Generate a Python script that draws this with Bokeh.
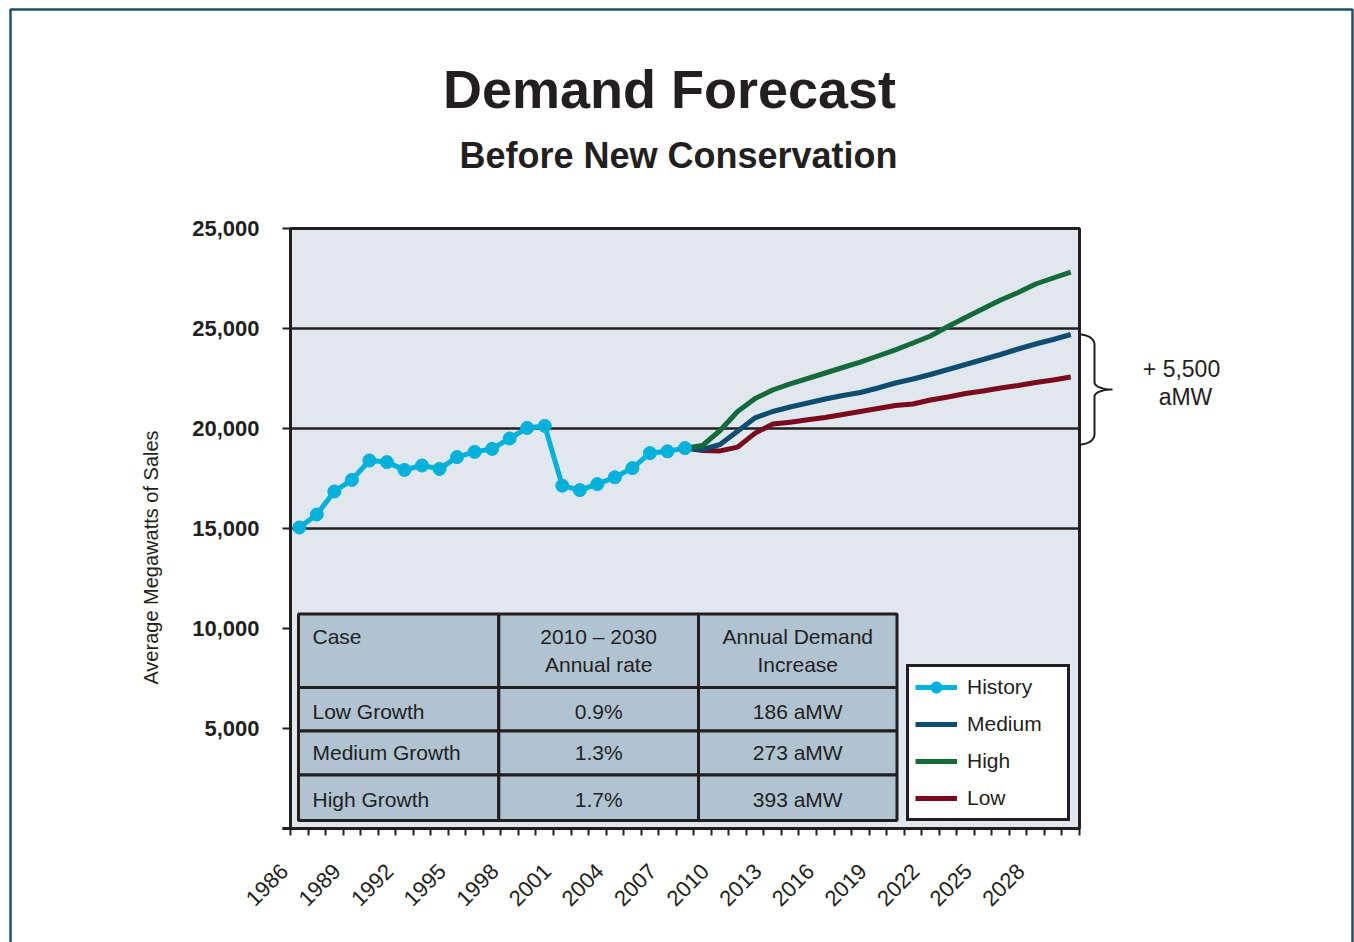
import numpy as np
from math import pi
from bokeh.plotting import figure
from bokeh.models import (FixedTicker, Range1d, Label, PolyAnnotation, Legend, LegendItem,
                          LinearAxis)
from bokeh.core.properties import value
from bokeh.embed import file_html
from bokeh.resources import INLINE

# ---------------- data ----------------
hist_years = list(range(1986, 2009))
hist_values = [15050, 15700, 16850, 17430, 18400, 18320, 17930, 18150, 17980, 18570,
               18830, 18980, 19500, 20030, 20130, 17140, 16920, 17220, 17560, 18020,
               18770, 18860, 19020]

fc_years = list(range(2008, 2031))
medium = [19020, 18950, 19200, 19865, 20533, 20850, 21075, 21275, 21475, 21650, 21800,
          22025, 22275, 22475, 22700, 22950, 23200, 23450, 23700, 23975, 24225, 24450, 24700]
high = [19020, 19150, 19900, 20850, 21500, 21925, 22233, 22500, 22775, 23050, 23320,
        23625, 23935, 24275, 24625, 25100, 25550, 25985, 26425, 26800, 27225, 27525, 27815]
low = [19020, 18900, 18880, 19067, 19770, 20220, 20317, 20433, 20550, 20700, 20850,
       21000, 21150, 21225, 21425, 21575, 21750, 21875, 22025, 22150, 22300, 22425, 22575]

label_years = list(range(1986, 2029, 3))
y_ticks = [0, 5000, 10000, 15000, 20000, 25000, 30000]
y_tick_labels = ["", "5,000", "10,000", "15,000", "20,000", "25,000", "25,000"]
grid_values = [15000, 20000, 25000]

header_line1 = ["Case", "2010 \u2013 2030", "Annual Demand"]
header_line2 = ["", "Annual rate", "Increase"]
cases = ["Low Growth", "Medium Growth", "High Growth"]
rates = ["0.9%", "1.3%", "1.7%"]
increases = ["186 aMW", "273 aMW", "393 aMW"]

legend_labels = ["History", "Medium", "High", "Low"]
increase_text = ["+ 5,500", "aMW"]

# ---------------- styling ----------------
CYAN = "#00B1DB"
BLUE = "#0C4D70"
GREEN = "#146B3A"
RED = "#7A0A1C"
INK = "#231F20"
BG = "#E0E7EE"
TABLE = "#AFC3D1"
FRAME = "#1F4E6F"
FONT = "Liberation Sans"

W, H = 1354, 942
# plot area on the page (px); the Bokeh frame covers the whole canvas
FL, FR, FT, FB = 290, 1079, 228, 828
X0, X1 = 1985.5, 2030.5
Y0, Y1 = 0, 30000
KX = (FR - FL) / (X1 - X0)
KY = (FB - FT) / (Y1 - Y0)


def dx(px):
    return X0 + (px - FL) / KX


def dy(py):
    return Y0 + (FB - py) / KY


def py_of(v):
    return FB - (v - Y0) * KY


p = figure(width=W, height=H, min_border=0,
           x_range=Range1d(dx(0), dx(W)), y_range=Range1d(dy(H), dy(0)),
           x_axis_location=None, y_axis_location=None,
           output_backend="svg", toolbar_location=None,
           background_fill_color="white", border_fill_color="white",
           outline_line_color=None)
for g in p.grid:
    g.visible = False

# plot-area background and border
p.quad(left=[X0], right=[X1], bottom=[Y0], top=[Y1], fill_color=BG,
       line_color=INK, line_width=3, level="image")
# horizontal grid lines limited to the plot area
p.segment(x0=[X0] * len(grid_values), x1=[X1] * len(grid_values), y0=grid_values,
          y1=grid_values, line_color=INK, line_width=2.5, level="underlay")

# ---- axes (fixed at the plot-area edges) ----
xa = LinearAxis(fixed_location=Y0, bounds=(dx(FL - 8), X1))
xa.ticker = FixedTicker(ticks=[y - 0.85 for y in label_years],
                        minor_ticks=[X0 + i for i in range(46)])
xa.major_label_overrides = {y - 0.85: str(y) for y in label_years}
xa.major_tick_out = 0
xa.major_tick_in = 0
xa.minor_tick_out = 7
xa.minor_tick_in = 0
xa.minor_tick_line_width = 2
xa.minor_tick_line_color = INK
xa.axis_line_width = 3
xa.axis_line_color = INK
xa.major_label_orientation = pi / 4
xa.major_label_standoff = 32
xa.major_label_text_font = FONT
xa.major_label_text_font_size = "22px"
xa.major_label_text_color = INK
p.add_layout(xa, "below")

ya = LinearAxis(fixed_location=X0, bounds=(Y0, Y1))
ya.ticker = FixedTicker(ticks=y_ticks)
ya.major_label_overrides = {t: l for t, l in zip(y_ticks, y_tick_labels)}
ya.minor_tick_out = 0
ya.minor_tick_in = 0
ya.major_tick_out = 8
ya.major_tick_in = 0
ya.major_tick_line_width = 2
ya.major_tick_line_color = INK
ya.axis_line_width = 3
ya.axis_line_color = INK
ya.major_label_standoff = 23
ya.major_label_text_font = FONT
ya.major_label_text_font_style = "bold"
ya.major_label_text_font_size = "22px"
ya.major_label_text_color = INK
p.add_layout(ya, "left")

# ---- table ----
col_edges = [dx(298), dx(498.3), dx(698), dx(896.5)]
row_edges = [dy(613.5), dy(687), dy(730.5), dy(774.5), dy(820)]
lefts, rights, tops, bottoms = [], [], [], []
for r in range(4):
    for c in range(3):
        lefts.append(col_edges[c]); rights.append(col_edges[c + 1])
        tops.append(row_edges[r]); bottoms.append(row_edges[r + 1])
p.quad(left=lefts, right=rights, top=tops, bottom=bottoms,
       fill_color=TABLE, line_color=INK, line_width=3)

tx_left = dx(312)
tx_c1 = (col_edges[1] + col_edges[2]) / 2
tx_c2 = (col_edges[2] + col_edges[3]) / 2
text_kw = dict(text_font=value(FONT), text_font_size=value("21px"),
               text_color=INK, text_baseline="middle")
p.text(x=[tx_left], y=[dy(636)], text=[header_line1[0]], text_align="left", **text_kw)
p.text(x=[tx_c1, tx_c2], y=[dy(636)] * 2, text=header_line1[1:], text_align="center", **text_kw)
p.text(x=[tx_c1, tx_c2], y=[dy(664)] * 2, text=header_line2[1:], text_align="center", **text_kw)
row_y = [dy(711), dy(752), dy(799)]
p.text(x=[tx_left] * 3, y=row_y, text=cases, text_align="left", **text_kw)
p.text(x=[tx_c1] * 3, y=row_y, text=rates, text_align="center", **text_kw)
p.text(x=[tx_c2] * 3, y=row_y, text=increases, text_align="center", **text_kw)

# ---- series ----
lw = 5
r_low = p.line(fc_years, low, line_color=RED, line_width=lw, line_join="round")
r_med = p.line(fc_years, medium, line_color=BLUE, line_width=lw, line_join="round")
r_high = p.line(fc_years, high, line_color=GREEN, line_width=lw, line_join="round")
r_hist_l = p.line(hist_years, hist_values, line_color=CYAN, line_width=lw, line_join="round")
r_hist_m = p.scatter(hist_years, hist_values, size=13, fill_color=CYAN, line_color=CYAN)

legend = Legend(items=[
    LegendItem(label=legend_labels[0], renderers=[r_hist_l, r_hist_m]),
    LegendItem(label=legend_labels[1], renderers=[r_med]),
    LegendItem(label=legend_labels[2], renderers=[r_high]),
    LegendItem(label=legend_labels[3], renderers=[r_low]),
], location=(906, H - 821))
legend.border_line_color = INK
legend.border_line_alpha = 1
legend.border_line_width = 3
legend.background_fill_color = "white"
legend.background_fill_alpha = 1
legend.padding = 6
legend.spacing = 9
legend.glyph_width = 42
legend.glyph_height = 28
legend.label_height = 28
legend.label_standoff = 10
legend.label_width = 94
legend.margin = 0
legend.label_text_font = FONT
legend.label_text_font_size = "21px"
legend.label_text_color = INK
p.add_layout(legend, "center")


def dlabel(px, py, text, **kw):
    base = dict(x=dx(px), y=dy(py), text=text, text_font=FONT, text_color=INK,
                text_align="center")
    base.update(kw)
    p.add_layout(Label(**base))


# ---- titles ----
dlabel(669, 88, "Demand Forecast", text_baseline="alphabetic", text_font_style="bold",
       text_font_size="54px")
dlabel(678, 155, "Before New Conservation", text_baseline="alphabetic",
       text_font_style="bold", text_font_size="36px")
dlabel(150, 557, "Average Megawatts of Sales", angle=pi / 2, text_baseline="middle",
       text_font_size="20px")

# ---- brace showing the medium-case increase ----
top_px = py_of(medium[-1])
bot_px = py_of(medium[2])
mid_px = (top_px + bot_px) / 2
xm = FR + 15
t = np.linspace(0, pi / 2, 12)
pts = []
for a in t:
    pts.append((FR + 15 * np.sin(a), top_px + 10 * (1 - np.cos(a))))
for a in t:
    pts.append((xm + 18 * (1 - np.cos(a)), mid_px - 7 + 7 * np.sin(a)))
for a in t[::-1]:
    pts.append((xm + 18 * (1 - np.cos(a)), mid_px + 7 - 7 * np.sin(a)))
for a in t[::-1]:
    pts.append((FR + 15 * np.sin(a), bot_px - 10 * (1 - np.cos(a))))
bx = [dx(q[0]) for q in pts]
by = [dy(q[1]) for q in pts]
p.add_layout(PolyAnnotation(xs=bx + bx[::-1], ys=by + by[::-1], fill_alpha=0,
                            line_color=INK, line_alpha=1, line_width=2))
dlabel(1181, 368, increase_text[0], text_baseline="alphabetic", text_font_size="23px")
dlabel(1185, 396, increase_text[1], text_baseline="alphabetic", text_font_size="23px")

# ---- page frame ----
fx = [dx(10), dx(10), dx(1352), dx(1352)]
fy = [dy(H + 5), dy(9), dy(9), dy(H + 5)]
p.add_layout(PolyAnnotation(xs=fx + fx[::-1], ys=fy + fy[::-1], fill_alpha=0,
                            line_color=FRAME, line_alpha=1, line_width=2.5))

open("out.html", "w").write(file_html(p, INLINE))
